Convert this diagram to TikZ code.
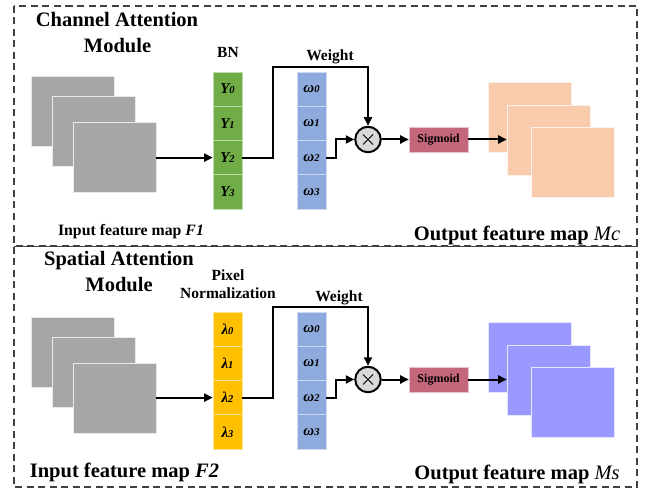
\documentclass[tikz,border=0pt]{standalone}
\usepackage{fontspec}
\setmainfont{Liberation Serif}
\usetikzlibrary{arrows.meta}

\definecolor{mapgray}{HTML}{A6A6A6}
\definecolor{bngreen}{HTML}{70AD47}
\definecolor{wblue}{HTML}{8FAADC}
\definecolor{pngold}{HTML}{FFC000}
\definecolor{sigred}{HTML}{C5677A}
\definecolor{peach}{HTML}{F8CBAD}
\definecolor{lilac}{HTML}{9999FF}
\definecolor{dashgray}{HTML}{404040}

\tikzset{
  fmap/.style={draw=white!75!#1, line width=0.6pt, fill=#1, minimum width=83, minimum height=70, inner sep=0pt},
  cell/.style={draw=white!55!#1, line width=0.6pt, fill=#1, minimum width=29, minimum height=34.25, inner sep=0pt,
               font=\fontsize{15}{15}\selectfont\bfseries\itshape},
  sigbox/.style={draw=white!60!sigred, line width=0.6pt, fill=sigred, minimum width=59, minimum height=25, inner sep=0pt,
                 font=\fontsize{12}{12}\selectfont\bfseries},
  mulnode/.style={circle, draw=black, line width=2pt, fill=black!15, minimum size=25.5, inner sep=0pt},
  conn/.style={line width=2pt, draw=black},
  arr/.style={conn, -{Triangle[length=8.5pt, width=8pt]}},
  frame/.style={draw=dashgray, line width=1.2pt, dash pattern=on 7pt off 4.5pt},
  title/.style={anchor=base, font=\fontsize{20.5}{22}\selectfont\bfseries},
  small/.style={anchor=base, font=\fontsize{15.5}{16}\selectfont\bfseries},
  big/.style={anchor=base, font=\fontsize{20.5}{22}\selectfont\bfseries},
}
\newcommand{\mulsign}{\tikz[baseline=-0.5ex]{\draw[line width=1pt] (-5pt,-5pt) -- (5pt,5pt) (-5pt,5pt) -- (5pt,-5pt);}}
\newcommand{\subd}[1]{{\fontsize{10.5}{11}\selectfont #1}}

\begin{document}
\begin{tikzpicture}[x=1pt, y=-1pt]
\useasboundingbox[fill=white] (0,0) rectangle (645,489);

% ---------- outer dashed frames ----------
\draw[frame] (14,6) rectangle (637,246);
\draw[frame] (14,246.7) rectangle (637,487);

% ================= Channel attention module =================
\node[title] (cat1) at (117,27) {Channel Attention};
\node[title] (cat2) at (117.5,53) {Module};

% input feature maps
\node[fmap=mapgray] (ia1) at (72.5,111.5) {};
\node[fmap=mapgray] (ia2) at (94,131.5) {};
\node[fmap=mapgray] (ia3) at (114.5,157.5) {};
\node[small, font=\fontsize{15.8}{16}\selectfont\bfseries] (inA) at (131,235) {Input feature map \textit{F1}};

% BN column
\node[small] (bn) at (228,57.5) {BN};
\node[cell=bngreen] (g0) at (227.5,89.1) {Υ\subd{0}};
\node[cell=bngreen] (g1) at (227.5,123.4) {Υ\subd{1}};
\node[cell=bngreen] (g2) at (227.5,157.6) {Υ\subd{2}};
\node[cell=bngreen] (g3) at (227.5,191.9) {Υ\subd{3}};

% weight column
\node[small] (wtA) at (330,60.5) {Weight};
\node[cell=wblue] (wa0) at (311.5,89.1) {ω\subd{0}};
\node[cell=wblue] (wa1) at (311.5,123.4) {ω\subd{1}};
\node[cell=wblue] (wa2) at (311.5,157.6) {ω\subd{2}};
\node[cell=wblue] (wa3) at (311.5,191.9) {ω\subd{3}};

% multiplication and sigmoid
\node[mulnode] (mulA) at (368,139.5) {\mulsign};
\node[sigbox] (sigA) at (438.5,139.5) {Sigmoid};

% output feature maps
\node[fmap=peach] (oa1) at (529.5,117) {};
\node[fmap=peach] (oa2) at (548.5,140) {};
\node[fmap=peach] (oa3) at (572.5,162) {};
\node[big] (outA) at (517,240.5) {Output feature map \textit{\mdseries Mc}};

% connectors
\coordinate (tA) at (273,67);
\draw[arr] (ia3.east |- g2.west) -- (g2.west);
\draw[arr] (g2.east) -| (tA) -| (mulA.north);
\draw[arr] (wa2.east) -- ++(10,0) |- (mulA.west);
\draw[arr] (mulA.east) -- (sigA.west);
\draw[arr] (sigA.east) -- (oa2.west |- sigA.east);

% ================= Spatial attention module =================
\node[title] (sat1) at (119,265) {Spatial Attention};
\node[title] (sat2) at (119,291) {Module};

% input feature maps
\node[fmap=mapgray] (ib1) at (72.5,352) {};
\node[fmap=mapgray] (ib2) at (94,372) {};
\node[fmap=mapgray] (ib3) at (114.5,398) {};
\node[big] (inB) at (124.5,477) {Input feature map \textit{F2}};

% pixel normalization column
\node[small] (pn1) at (228,280) {Pixel};
\node[small] (pn2) at (228,298.5) {Normalization};
\node[cell=pngold] (l0) at (227.5,329.1) {λ\subd{0}};
\node[cell=pngold] (l1) at (227.5,363.4) {λ\subd{1}};
\node[cell=pngold] (l2) at (227.5,397.6) {λ\subd{2}};
\node[cell=pngold] (l3) at (227.5,431.9) {λ\subd{3}};

% weight column
\node[small] (wtB) at (339,301.5) {Weight};
\node[cell=wblue] (wb0) at (311.5,329.1) {ω\subd{0}};
\node[cell=wblue] (wb1) at (311.5,363.4) {ω\subd{1}};
\node[cell=wblue] (wb2) at (311.5,397.6) {ω\subd{2}};
\node[cell=wblue] (wb3) at (311.5,431.9) {ω\subd{3}};

% multiplication and sigmoid
\node[mulnode] (mulB) at (368,379.5) {\mulsign};
\node[sigbox] (sigB) at (438.5,379.5) {Sigmoid};

% output feature maps
\node[fmap=lilac] (ob1) at (529.5,357) {};
\node[fmap=lilac] (ob2) at (548.5,380) {};
\node[fmap=lilac] (ob3) at (572.5,402) {};
\node[big] (outB) at (517,479) {Output feature map \textit{\mdseries Ms}};

% connectors
\coordinate (tB) at (273,307);
\draw[arr] (ib3.east |- l2.west) -- (l2.west);
\draw[arr] (l2.east) -| (tB) -| (mulB.north);
\draw[arr] (wb2.east) -- ++(10,0) |- (mulB.west);
\draw[arr] (mulB.east) -- (sigB.west);
\draw[arr] (sigB.east) -- (ob2.west |- sigB.east);
\end{tikzpicture}
\end{document}
